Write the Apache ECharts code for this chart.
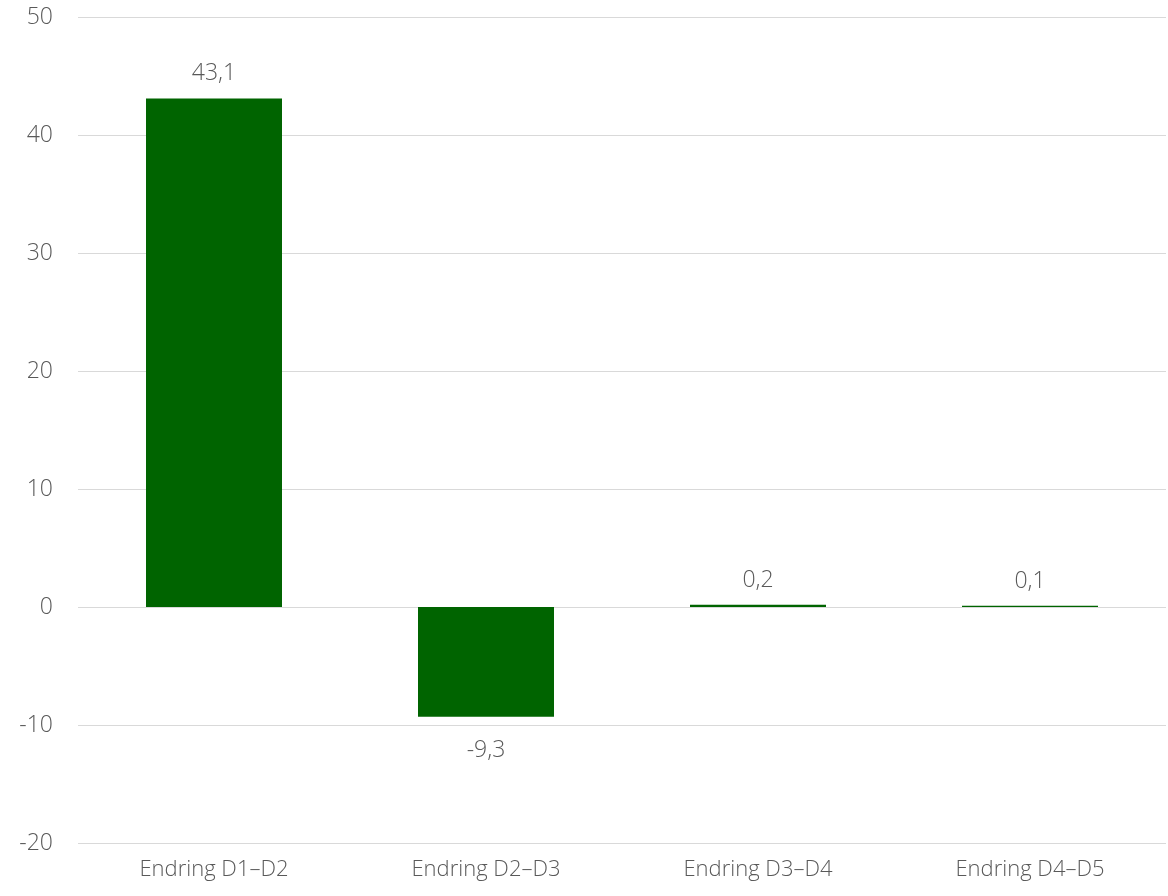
<!DOCTYPE html>
<html><head><meta charset="utf-8">
<script src="https://cdn.jsdelivr.net/npm/echarts@6/dist/echarts.min.js"></script>
<style>html,body{margin:0;padding:0;background:#fff}#c{width:1168px;height:896px}</style>
</head><body><div id="c"></div>
<script>
const categories = ['Endring D1–D2','Endring D2–D3','Endring D3–D4','Endring D4–D5'];
const values = [43.1, -9.3, 0.2, 0.1];
const yTicks = {min: -20, max: 50, interval: 10};

const FONT = '"Open Sans", sans-serif';
const chart = echarts.init(document.getElementById('c'));
chart.setOption({
  animation: false,
  grid: {left: 78, right: 2, top: 17, bottom: 53, containLabel: false},
  xAxis: {
    type: 'category', data: categories,
    axisLine: {show: false}, axisTick: {show: false},
    axisLabel: {color: '#595959', fontSize: 22, fontFamily: FONT, fontWeight: 300, margin: 16}
  },
  yAxis: {
    type: 'value', min: yTicks.min, max: yTicks.max, interval: yTicks.interval,
    axisLine: {show: false}, axisTick: {show: false},
    splitLine: {lineStyle: {color: '#d9d9d9', width: 1}},
    axisLabel: {color: '#595959', fontSize: 23, fontFamily: FONT, fontWeight: 300, margin: 25}
  },
  series: [{
    type: 'bar', barWidth: '50%',
    itemStyle: {color: '#006400'},
    data: values.map(v => ({value: v, label: v < 0 ? {position: 'bottom', distance: 22} : {position: 'top', distance: 13}})),
    label: {
      show: true, color: '#595959', fontSize: 23, fontFamily: FONT, fontWeight: 300,
      formatter: p => String(p.value).replace('.', ',')
    }
  }]
});
</script></body></html>
